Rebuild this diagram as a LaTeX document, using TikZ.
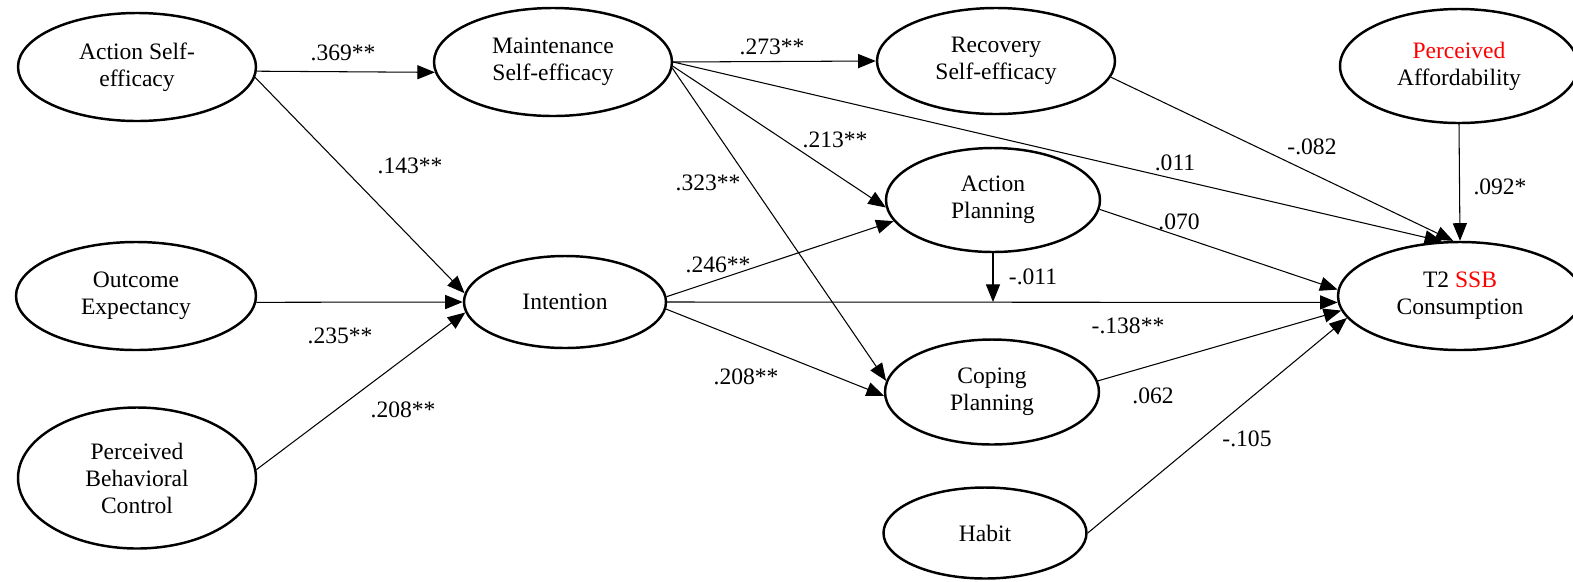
\documentclass[tikz,border=0pt]{standalone}
\usepackage{fontspec}
\setmainfont{Liberation Serif}
\usepackage{tikz}
\usetikzlibrary{shapes.geometric}
\usetikzlibrary{arrows.meta}
\tikzset{>={Triangle[length=10pt,width=8pt]}}
\tikzstyle{enode}=[black,draw=black,line width=1.4pt,shape=ellipse,fill=white,inner sep=0pt,align=center,minimum width=4.76cm,minimum height=2.16cm,font=\fontsize{13.4}{15.4}\selectfont]
\tikzstyle{wnode}=[black,inner sep=0pt,font=\fontsize{13.4}{15.4}\selectfont]
\tikzstyle{aro}=[->,line width=0.6pt,color=black]

\begin{document}
\begin{tikzpicture}
	\useasboundingbox (0, 0) rectangle (31.46, -11.62);
	
	% Predictors
	\node[enode] (ase) at (2.74, -1.34) {Action Self-\\efficacy};
	\node[enode, minimum width=4.8cm] (oe) at (2.72, -5.92) {Outcome\\Expectancy};
	\node[enode, minimum height=2.82cm] (pbc) at (2.74, -9.56) {Perceived\\Behavioral\\Control};
	\node[enode] (mse) at (11.06, -1.24) {Maintenance\\Self-efficacy};
	\node[enode, minimum width=4.04cm, minimum height=1.84cm] (int) at (11.3, -6.04) {Intention};
	
	% Mediators
	\node[enode, minimum height=2.12cm] (rse) at (19.92, -1.22) {Recovery\\Self-efficacy};
	\node[enode, minimum width=4.28cm, minimum height=2.08cm] (ap) at (19.86, -4.0) {Action\\Planning};
	\node[enode, minimum width=4.28cm, minimum height=2.1cm] (cp) at (19.84, -7.84) {Coping\\Planning};
	\node[enode, minimum width=4.06cm, minimum height=1.82cm] (hab) at (19.7, -10.66) {Habit};
	
	% Outcome
	\node[enode, minimum height=2.28cm] (paf) at (29.18, -1.32) {\textcolor{red}{Perceived}\\Affordability};
	\node[enode, minimum width=4.88cm] (t2) at (29.2, -5.92) {T2 \textcolor{red}{SSB}\\Consumption};
	
	\draw[aro] (ase.-2) -- (mse.185);
	\draw[aro] (ase.-5) -- (int.175);
	\draw[aro] (oe.-3) -- (int.west);
	\draw[aro] (pbc.4) -- (int.186);
	\draw[aro] (mse.east) -- (rse.west);
	\draw[aro] (mse.east) -- (t2.108);
	\draw[aro] (mse.-2) -- (ap.184);
	\draw[aro] (mse.-3) -- (cp.174);
	\draw[aro] (int.3) -- (ap.192);
	\draw[aro] (int.east) -- (t2.183);
	\draw[aro] (int.-4) -- (cp.182);
	\coordinate (mod) at (ap.south |- int.east);
	\draw[aro] (ap.south) -- (mod);
	\draw[aro] (rse.-8) -- (t2.97);
	\draw[aro] (paf.south) -- (t2.north);
	\draw[aro] (ap.-5) -- (t2.177);
	\draw[aro] (cp.6) -- (t2.187);
	\draw[aro] (hab.east) -- (t2.191);
	
	% Coefficients
	\node[wnode] (wasemse) at (6.86, -1.06) {.369**};
	\node[wnode] (waseint) at (8.2, -3.32) {.143**};
	\node[wnode] (woeint) at (6.8, -6.72) {.235**};
	\node[wnode] (wpbcint) at (8.06, -8.2) {.208**};
	\node[wnode] (wmserse) at (15.44, -0.94) {.273**};
	\node[wnode] (wmseap) at (16.7, -2.8) {.213**};
	\node[wnode] (wmsecp) at (14.16, -3.66) {.323**};
	\node[wnode] (wintap) at (14.36, -5.3) {.246**};
	\node[wnode] (wintcp) at (14.92, -7.54) {.208**};
	\node[wnode] (wmod) at (20.66, -5.54) {-.011};
	\node[wnode] (wmset2) at (23.5, -3.26) {.011};
	\node[wnode] (wrset2) at (26.24, -2.94) {-.082};
	\node[wnode] (wpaft2) at (30.0, -3.74) {.092*};
	\node[wnode] (wapt2) at (23.58, -4.44) {.070};
	\node[wnode] (wcpt2a) at (22.56, -6.52) {-.138**};
	\node[wnode] (wcpt2b) at (23.06, -7.92) {.062};
	\node[wnode] (whabt2) at (24.94, -8.78) {-.105};
	
\end{tikzpicture}
\end{document}
